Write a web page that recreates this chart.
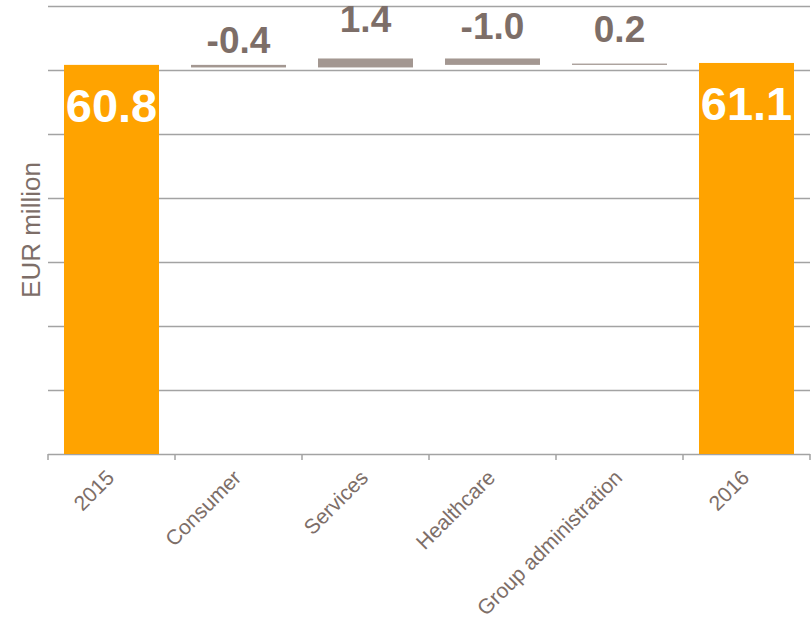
<!DOCTYPE html>
<html>
<head>
<meta charset="utf-8">
<script src="https://cdn.jsdelivr.net/npm/d3@7"></script>
<style>
  body { margin: 0; background: #fff; }
  #chart { width: 812px; height: 619px; }
  text { font-family: 'Liberation Sans', Arial, sans-serif; }
</style>
</head>
<body>
<div id="chart"></div>
<script>
const categories = ['2015', 'Consumer', 'Services', 'Healthcare', 'Group administration', '2016']
const kinds = ['total', 'delta', 'delta', 'delta', 'delta', 'total']
const values = [60.8, -0.4, 1.4, -1.0, 0.2, 61.1]
const valueLabels = ['60.8', '-0.4', '1.4', '-1.0', '0.2', '61.1']
const gridTicks = [0, 10, 20, 30, 40, 50, 60, 70]

// how far each change label sits above its bar (layout only)
const labelLift = [0, 12, 26, 19, 22, 0]

const orange = '#ffa300',
  deltaGrey = '#a39791',
  textGrey = '#7d6e68',
  lineGrey = '#a3a3a3'

function waterfall_chart(root) {
  const width = 812,
    height = 619
  const left = 48,
    right = 810,
    top = 6,
    bottom = 454

  // running start / end for each bar
  let run = 0
  const bars = categories.map((name, i) => {
    let start, end
    if (kinds[i] === 'total') {
      start = 0
      end = values[i]
      run = values[i]
    } else {
      start = run
      end = run + values[i]
      run = end
    }
    return { name, kind: kinds[i], start, end, label: valueLabels[i], lift: labelLift[i] }
  })

  const svg = d3
    .select(document.querySelector(`#${root}`))
    .append('svg')
    .attr('width', width)
    .attr('height', height)

  const x = d3
    .scaleBand()
    .domain(categories)
    .range([left, right])
    .paddingInner(0.252)
    .paddingOuter(0.126)

  const y = d3
    .scaleLinear()
    .domain([0, 70])
    .range([bottom, top])

  // horizontal grid lines
  const grid = svg
    .append('g')
    .attr('transform', `translate(${left},0)`)
    .call(
      d3
        .axisLeft(y)
        .tickValues(gridTicks)
        .tickSize(-(right - left))
        .tickFormat('')
    )
  grid.select('.domain').remove()
  grid
    .selectAll('line')
    .attr('stroke', lineGrey)
    .attr('stroke-width', 1.5)

  // x axis ticks sit on band boundaries
  const edges = d3.range(categories.length + 1).map(i => left + i * x.step())
  svg
    .append('g')
    .selectAll('line')
    .data(edges)
    .enter()
    .append('line')
    .attr('x1', d => d)
    .attr('x2', d => d)
    .attr('y1', bottom)
    .attr('y2', bottom + 6)
    .attr('stroke', lineGrey)
    .attr('stroke-width', 1.5)

  // bars
  svg
    .append('g')
    .selectAll('rect')
    .data(bars)
    .enter()
    .append('rect')
    .attr('x', d => x(d.name))
    .attr('width', x.bandwidth())
    .attr('y', d => y(Math.max(d.start, d.end)))
    .attr('height', d => Math.abs(y(d.start) - y(d.end)))
    .attr('fill', d => (d.kind === 'total' ? orange : deltaGrey))

  // value labels
  svg
    .append('g')
    .selectAll('text')
    .data(bars)
    .enter()
    .append('text')
    .attr('x', d => x(d.name) + x.bandwidth() / 2)
    .attr('y', d => {
      const topY = y(Math.max(d.start, d.end))
      return d.kind === 'total' ? topY + 57 : topY - d.lift
    })
    .attr('text-anchor', 'middle')
    .attr('font-weight', 'bold')
    .attr('font-size', d => (d.kind === 'total' ? '47px' : '37px'))
    .attr('fill', d => (d.kind === 'total' ? '#fff' : textGrey))
    .text(d => d.label)

  // category labels, rotated
  svg
    .append('g')
    .selectAll('text')
    .data(categories)
    .enter()
    .append('text')
    .attr('transform', d => `translate(${x(d) + x.bandwidth() / 2 + 4},${bottom + 25}) rotate(-45)`)
    .attr('text-anchor', 'end')
    .attr('font-size', '21px')
    .attr('fill', textGrey)
    .text(d => d)

  // y axis title
  svg
    .append('text')
    .attr('transform', `translate(40,230) rotate(-90)`)
    .attr('text-anchor', 'middle')
    .attr('font-size', '26px')
    .attr('fill', textGrey)
    .text('EUR million')
}

waterfall_chart('chart')
</script>
</body>
</html>
